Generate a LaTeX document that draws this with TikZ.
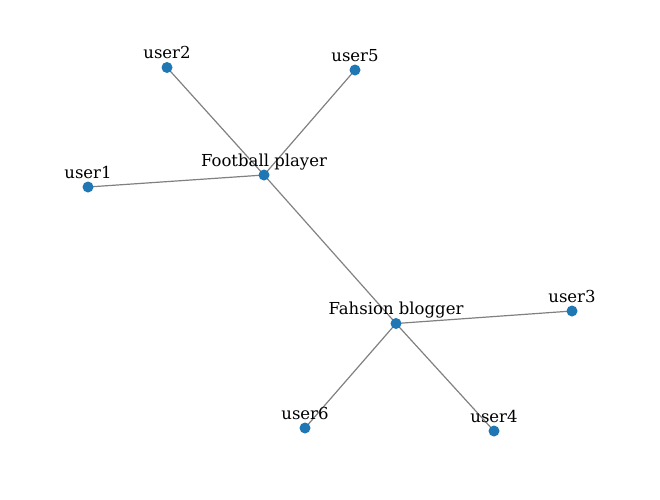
\documentclass[tikz,border=0pt]{standalone}
\usepackage{fontspec}
\setmainfont{DejaVu Serif}
\definecolor{nodeblue}{HTML}{1F77B4}
\begin{document}
\begin{tikzpicture}[x=1pt,y=-1pt,
  dot/.style={circle,fill=nodeblue,inner sep=0pt,minimum size=11pt},
  lbl/.style={anchor=base,inner sep=0pt,font=\fontsize{16.5}{18}\selectfont},
  edge/.style={draw=gray,line width=1.2pt}]
\useasboundingbox (0,0) rectangle (660,499);
\coordinate (fp) at (264,175);
\coordinate (fb) at (396,323.5);
\coordinate (u1) at (88,187);
\coordinate (u2) at (167,67.5);
\coordinate (u3) at (572,311);
\coordinate (u4) at (494,431);
\coordinate (u5) at (355,70);
\coordinate (u6) at (305,428);
\draw[edge] (fp) -- (u1);
\draw[edge] (fp) -- (u2);
\draw[edge] (fp) -- (u5);
\draw[edge] (fp) -- (fb);
\draw[edge] (fb) -- (u3);
\draw[edge] (fb) -- (u4);
\draw[edge] (fb) -- (u6);
\foreach \n/\t in {fp/Football player,fb/Fahsion blogger,u1/user1,u2/user2,u3/user3,u4/user4,u5/user5,u6/user6}{
  \node[dot] (\n d) at (\n) {};
  \node[lbl] (\n l) at ([yshift=9pt]\n) {\t};
}
\end{tikzpicture}
\end{document}
